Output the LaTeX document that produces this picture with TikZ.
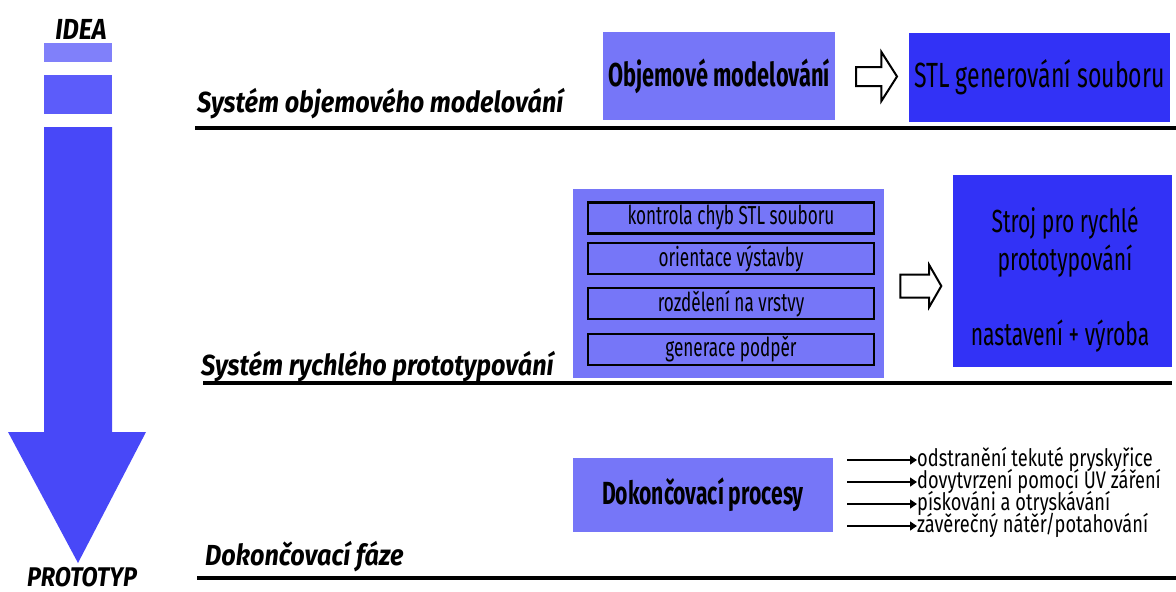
\documentclass[tikz,border=0pt]{standalone}
\usepackage{fontspec}
\setmainfont{Fira Sans}[FakeStretch=0.87]
\newfontfamily\narrowfont{Fira Sans}[FakeStretch=0.66]
\newfontfamily\listfont{Fira Sans}[FakeStretch=0.76]
\usepackage{tikz}
\usetikzlibrary{arrows,shapes,positioning}
\usetikzlibrary{arrows.meta}
\usetikzlibrary{calc}

\definecolor{barlight}{RGB}{128,128,250}
\definecolor{barmid}{RGB}{92,92,250}
\definecolor{bardark}{RGB}{72,72,248}
\definecolor{boxlight}{RGB}{118,118,248}
\definecolor{boxdark}{RGB}{50,50,246}

\tikzset{
  phase/.style={anchor=base west, inner sep=0pt, font=\fontsize{29}{30}\selectfont\bfseries\itshape},
  ends/.style={anchor=base, inner sep=0pt, font=\fontsize{29}{30}\selectfont\bfseries\itshape},
  lightbox/.style={fill=boxlight, inner sep=0pt},
  darkbox/.style={fill=boxdark, inner sep=0pt},
  machtext/.style={anchor=base, inner sep=0pt, font=\narrowfont\fontsize{32}{33}\selectfont},
  stepbox/.style={draw=black, line width=2.5pt, minimum width=286pt, minimum height=31pt, inner sep=0pt, font=\narrowfont\fontsize{26}{27}\selectfont},
  hollow/.style={single arrow, draw=black, fill=white, line width=2pt, inner xsep=0pt},
  sepline/.style={line width=4pt},
  listarrow/.style={line width=1.2pt, -{Triangle[length=7pt,width=9pt]}},
  listitem/.style={anchor=base west, inner sep=0pt, font=\listfont\fontsize{24}{24}\selectfont}
}

\begin{document}
\begin{tikzpicture}[x=1pt,y=-1pt]
  \useasboundingbox (0,0) rectangle (1176,592);

  % left arrow
  \node[ends] (idea) at (81,39) {IDEA};
  \fill[barlight] (44,43) rectangle (112,62);
  \fill[barmid] (44,75) rectangle (112,114);
  \fill[bardark] (44,127) -- (112,127) -- (112,432) -- (146,432) -- (78,563) -- (8,432) -- (44,432) -- cycle;
  \node[ends, font=\fontsize{27}{28}\selectfont\bfseries\itshape] (proto) at (82,586) {PROTOTYP};

  % phase lines
  \draw[sepline] (195,128) -- (1176,128);
  \draw[sepline] (203,383) -- (1172,383);
  \draw[sepline] (197,578) -- (1176,578);
  \node[phase] (ph1) at (197,112) {Systém objemového modelování};
  \node[phase] (ph2) at (201,375) {Systém rychlého prototypování};
  \node[phase] (ph3) at (205,565) {Dokončovací fáze};

  % solid modelling
  \node[lightbox, minimum width=232pt, minimum height=88pt, font=\narrowfont\fontsize{33}{34}\selectfont\bfseries] (model) at (719,76) {Objemové modelování};
  \node[hollow, inner ysep=8.5pt, minimum height=41pt, minimum width=47pt, single arrow head extend=15pt, single arrow tip angle=115] (arr1) at (873.5,76.5) {};
  \node[darkbox, minimum width=261pt, minimum height=89pt, font=\narrowfont\fontsize{35}{36}\selectfont] (stl) at (1039.5,77.5) {STL generování souboru};

  % rapid prototyping
  \node[lightbox, minimum width=311pt, minimum height=189pt] (prep) at (728.5,283.5) {};
  \node[stepbox] (s1) at (731,218) {kontrola chyb STL souboru};
  \node[stepbox] (s2) at (731,258.5) {orientace výstavby};
  \node[stepbox] (s3) at (731,303.5) {rozdělení na vrstvy};
  \node[stepbox] (s4) at (731,349.5) {generace podpěr};
  \node[hollow, inner ysep=10.5pt, minimum height=41pt, minimum width=40pt, single arrow head extend=9.5pt, single arrow tip angle=120] (arr2) at (917.5,286) {};
  \node[darkbox, minimum width=219pt, minimum height=192pt] (machine) at (1062.5,271) {};
  \node[machtext] (m1) at (1065,232) {Stroj pro rychlé};
  \node[machtext] (m2) at (1065,270) {prototypování};
  \node[machtext] (m3) at (1060,345) {nastavení + výroba};

  % finishing
  \node[lightbox, minimum width=260pt, minimum height=74pt, font=\narrowfont\fontsize{32}{33}\selectfont\bfseries] (finish) at (703,495) {Dokončovací procesy};
  \foreach \y/\n/\t in {460/f1/{odstranění tekuté pryskyřice},
                        482/f2/{dovytvrzení pomocí UV záření},
                        504/f3/{pískováni a otryskávání},
                        526/f4/{závěrečný nátěr/potahování}}{
    \coordinate (\n s) at (847,\y);
    \node[listitem] (\n) at (917,\y+6) {\t};
    \draw[listarrow] (\n s) -- (\n s -| \n.west);
  }
\end{tikzpicture}
\end{document}
